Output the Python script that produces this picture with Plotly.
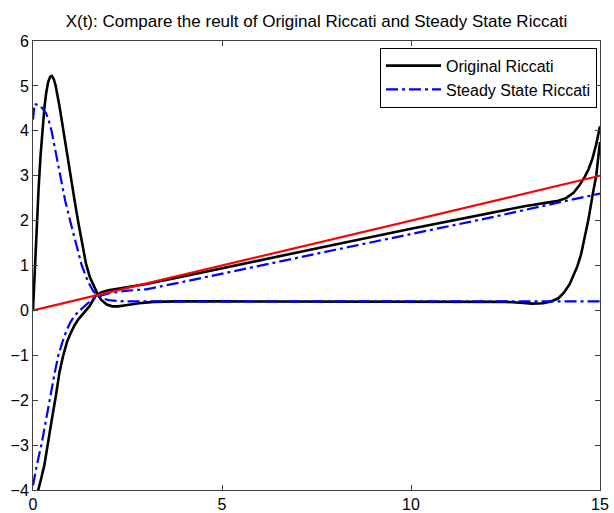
"""
X(t): original Riccati vs steady state Riccati solution, plus the linear reference.
"""

import plotly.graph_objects as go

# ---- data ----
# original Riccati, first state
t_orig_1 = [0, 0.05, 0.1, 0.15, 0.2, 0.25, 0.3, 0.35, 0.4, 0.45, 0.5, 0.55, 0.6,
            0.7, 0.8, 0.9, 1.0, 1.1, 1.2, 1.3, 1.4, 1.5, 1.6, 1.7, 1.8, 1.95,
            2.1, 2.25, 2.5, 2.8, 3.2, 3.8, 5, 8, 11, 12.5, 12.9, 13.2, 13.5,
            13.7, 13.9, 14.05, 14.2, 14.3, 14.4, 14.5, 14.6, 14.7, 14.8, 14.9, 15]
x_orig_1 = [0, 1.0, 1.9, 2.75, 3.45, 4.05, 4.5, 4.85, 5.08, 5.2, 5.22, 5.15, 5.0,
            4.55, 4.0, 3.5, 2.95, 2.45, 1.95, 1.5, 1.05, 0.75, 0.55, 0.38, 0.24, 0.13,
            0.09, 0.09, 0.12, 0.16, 0.19, 0.2, 0.2, 0.2, 0.2, 0.19, 0.17, 0.15, 0.16,
            0.2, 0.27, 0.4, 0.59, 0.78, 0.98, 1.25, 1.65, 2.05, 2.55, 3.0, 3.75]

# original Riccati, second state
t_orig_2 = [0, 0.1, 0.2, 0.3, 0.4, 0.5, 0.6, 0.7, 0.8, 0.9, 1.0, 1.1, 1.2, 1.3,
            1.4, 1.5, 1.65, 1.8, 2.0, 2.5, 3.0, 4, 6, 8, 10, 12, 13, 13.6, 13.9,
            14.1, 14.3, 14.45, 14.6, 14.7, 14.8, 14.9, 15]
x_orig_2 = [-4.45, -4.15, -3.8, -3.45, -2.98, -2.42, -1.93, -1.38, -1.0, -0.7, -0.5,
            -0.33, -0.2, -0.1, 0.0, 0.1, 0.32, 0.4, 0.45, 0.52, 0.59, 0.76, 1.12,
            1.47, 1.82, 2.16, 2.32, 2.4, 2.44, 2.5, 2.62, 2.78, 2.98, 3.15, 3.38, 3.7, 4.1]

# steady state Riccati, first state
t_ss_1 = [0, 0.04, 0.15, 0.25, 0.35, 0.42, 0.49, 0.6, 0.71, 0.85, 0.98, 1.13,
          1.29, 1.45, 1.6, 1.8, 2.0, 2.4, 3, 15]
x_ss_1 = [4.25, 4.6, 4.57, 4.5, 4.38, 4.22, 4.0, 3.5, 3.0, 2.45, 2.0, 1.5,
          1.0, 0.65, 0.42, 0.28, 0.23, 0.2, 0.2, 0.2]

# steady state Riccati, second state
t_ss_2 = [0, 0.1, 0.23, 0.35, 0.45, 0.56, 0.67, 0.78, 0.89, 1.0, 1.1, 1.2, 1.33,
          1.5, 1.68, 2.0, 2.5, 3, 4, 6, 8, 10, 12, 14, 15]
x_ss_2 = [-3.9, -3.45, -2.96, -2.45, -1.96, -1.45, -1.0, -0.7, -0.44, -0.25, -0.12,
          -0.03, 0.07, 0.2, 0.3, 0.38, 0.44, 0.47, 0.64, 1.0, 1.35, 1.7, 2.05, 2.42, 2.6]

# reference line
t_ref = [0, 15]
x_ref = [0, 3]

x_ticks = [0, 5, 10, 15]
y_ticks = [-4, -3, -2, -1, 0, 1, 2, 3, 4, 5, 6]

FONT = 'Liberation Sans, Arial, sans-serif'
BLACK = dict(color='#000000', width=2.6)
BLUE = dict(color='#0000ff', width=2.2, dash='12px,4px,3px,4px')
RED = dict(color='#ff0000', width=2.2)

fig = go.Figure()

fig.add_trace(go.Scatter(x=t_orig_1, y=x_orig_1, mode='lines', line=BLACK,
                         name='Original Riccati'))
fig.add_trace(go.Scatter(x=t_ss_1, y=x_ss_1, mode='lines', line=BLUE,
                         name='Steady State Riccati'))
fig.add_trace(go.Scatter(x=t_orig_2, y=x_orig_2, mode='lines', line=BLACK,
                         showlegend=False))
fig.add_trace(go.Scatter(x=t_ss_2, y=x_ss_2, mode='lines', line=BLUE,
                         showlegend=False))
fig.add_trace(go.Scatter(x=t_ref, y=x_ref, mode='lines', line=RED,
                         showlegend=False))

axis_style = dict(
    showline=True, linecolor='#404040', linewidth=1, mirror='ticks',
    ticks='inside', ticklen=5, tickcolor='#404040',
    showgrid=False, zeroline=False, automargin=False,
    tickfont=dict(family=FONT, size=16, color='#000000'),
)

fig.update_layout(
    width=614, height=513,
    margin=dict(l=33, r=14, t=41, b=23),
    paper_bgcolor='#ffffff', plot_bgcolor='#ffffff',
    title=dict(
        text='X(t): Compare the reult of Original Riccati and Steady State Riccati',
        x=(33 + 600) / 2 / 614, xanchor='center', y=1 - 21 / 513, yanchor='middle',
        font=dict(family=FONT, size=17, color='#000000'),
    ),
    xaxis=dict(range=[0, 15], tickvals=x_ticks, **axis_style),
    yaxis=dict(range=[-4, 6], tickvals=y_ticks, **axis_style),
    legend=dict(
        x=0.9947, xanchor='right', y=0.985, yanchor='top',
        bgcolor='#ffffff', bordercolor='#000000', borderwidth=1,
        font=dict(family=FONT, size=16, color='#000000'),
        itemwidth=55, tracegroupgap=0,
    ),
    showlegend=True,
)

fig.write_html("out.html", config={'displayModeBar': False},
               post_script="document.body.style.margin='0';")
